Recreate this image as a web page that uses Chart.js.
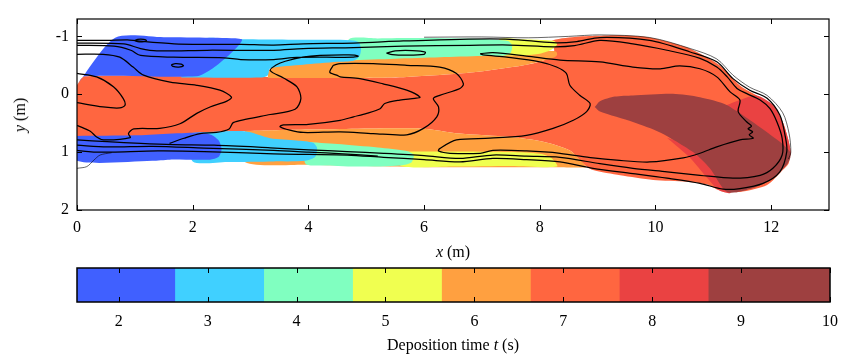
<!DOCTYPE html>
<html>
<head>
<meta charset="utf-8">
<script src="https://cdn.jsdelivr.net/npm/chart.js@4.4.1/dist/chart.umd.min.js"></script>
<style>
  body { margin: 0; background: #fff; width: 842px; height: 357px; position: relative; overflow: hidden;
         font-family: 'Liberation Serif', 'DejaVu Serif', serif; }
  canvas { position: absolute; left: 0; }
  #mainChart { top: 0; }
  #barChart { top: 240px; }
  .lbl { position: absolute; font-size: 16px; line-height: 16px; color: #000; white-space: nowrap; }
</style>
</head>
<body>
<canvas id="mainChart" width="842" height="240"></canvas>
<canvas id="barChart" width="842" height="117"></canvas>
<div class="lbl" style="left:453px; top:244px; transform:translateX(-50%)"><i>x</i> (m)</div>
<div class="lbl" style="left:20px; top:115px; transform:translate(-50%,-50%) rotate(-90deg)"><i>y</i> (m)</div>
<div class="lbl" style="left:453px; top:337px; transform:translateX(-50%)">Deposition time <i>t</i> (s)</div>
<script>
// ====== AXES ======
const xTicks  = [0, 2, 4, 6, 8, 10, 12];
const yTicks  = [-1, 0, 1, 2];
const cbTicks = [2, 3, 4, 5, 6, 7, 8, 9, 10];

// ====== COLOUR LEVELS (deposition time) ======
const cbEdges  = [1.53, 2.63, 3.63, 4.63, 5.63, 6.63, 7.63, 8.63, 10];
const cbColors = ['#4060ff', '#40d0ff', '#80ffc0', '#f0ff50', '#ffa040', '#ff6640', '#ea4242', '#9e4040'];

// ====== FILLED REGIONS [x, y] in metres ======
const region7 = [[0,-0.16],[0.13,-0.31],[2.0,-0.31],[3.3,-0.3],[4.55,-0.28],[5.7,-0.3],[6.85,-0.38],[7.72,-0.5],
  [8.1,-0.6],[8.25,-0.75],[8.2,-0.92],[8.6,-0.99],[9.0,-1.01],[9.33,-1.02],[9.85,-0.99],[10.54,-0.81],[11.11,-0.5],
  [11.46,-0.15],[11.8,0.05],[12.04,0.2],[12.2,0.48],[12.3,0.8],[12.33,1.02],[12.3,1.2],[12.2,1.31],[11.93,1.57],
  [11.46,1.69],[11.1,1.66],[10.9,1.56],[10.54,1.51],[9.96,1.48],[9.39,1.4],[8.92,1.31],[8.75,1.2],[8.52,0.97],
  [8.06,0.82],[7.48,0.74],[6.62,0.68],[5.93,0.59],[4.0,0.61],[2.8,0.64],[2.1,0.67],[1.0,0.73],[0,0.74]];
const orangeUp = [[3.3,-0.28],[3.31,-0.4],[3.45,-0.5],[4.5,-0.62],[6,-0.68],[7.5,-0.72],[8.0,-0.75],[8.28,-0.74],
  [8.3,-0.68],[8.23,-0.63],[7.72,-0.5],[6.85,-0.38],[5.7,-0.3],[4.55,-0.28]];
const orangeLow = [[2.9,0.635],[4.0,0.61],[5.93,0.59],[6.62,0.68],[7.48,0.74],[8.06,0.82],[8.52,0.97],[8.75,1.19],
  [8.8,1.26],[8.3,1.26],[6,1.26],[4,1.22],[2.9,1.17]];
const yellowUp = [[7.3,-0.67],[7.72,-0.67],[8.0,-0.7],[8.2,-0.77],[8.3,-0.86],[8.25,-0.92],[7.8,-0.945],[7.3,-0.95]];
const yellowLow = [[5.6,0.99],[6.5,0.99],[7.5,1.0],[8.0,1.03],[8.2,1.1],[8.3,1.25],[7.5,1.24],[6.5,1.25],[5.6,1.24]];
const greenUp = [[4.7,-0.585],[5.5,-0.615],[6.27,-0.64],[7.0,-0.66],[7.4,-0.67],[7.5,-0.72],[7.52,-0.85],[7.45,-0.92],
  [7.0,-0.955],[6.0,-0.97],[5.2,-0.965],[4.7,-0.95]];
const greenLow = [[3.95,0.82],[4.5,0.86],[5.2,0.92],[5.7,0.98],[5.82,1.05],[5.78,1.18],[5.6,1.23],[4.9,1.25],
  [4.3,1.23],[3.95,1.2]];
const cyanUp = [[1.8,-0.29],[3.2,-0.29],[3.3,-0.33],[3.34,-0.45],[3.91,-0.51],[4.5,-0.56],[4.78,-0.58],[4.88,-0.65],
  [4.91,-0.78],[4.87,-0.9],[4.72,-0.935],[4.0,-0.94],[3.3,-0.945],[2.6,-0.955],[2.2,-0.95]];
const cyanLow = [[2.0,0.665],[2.9,0.64],[3.34,0.76],[3.8,0.8],[4.08,0.84],[4.15,0.93],[4.12,1.08],[3.95,1.15],
  [3.4,1.16],[2.6,1.17],[2.0,1.16]];
const blueUp = [[0,-0.16],[0.66,-0.975],[1.5,-0.985],[2.3,-0.975],[2.85,-0.95],[2.8,-0.85],[2.6,-0.65],[2.35,-0.45],
  [2.07,-0.31],[0.13,-0.31]];
const blueLow = [[0,0.72],[1.0,0.71],[2.14,0.66],[2.32,0.7],[2.45,0.8],[2.5,0.95],[2.45,1.08],[2.3,1.13],[1.6,1.13],
  [1.3,1.15],[0,1.15]];
const red8Cap = [[11.2,0.2],[11.46,0.1],[11.75,0.02],[12.04,0.19],[12.2,0.48],[12.3,0.8],[12.33,1.05],[12.0,1.0],[11.5,0.6]];
const red8Strip = [[10.2,0.75],[10.8,0.95],[11.3,1.4],[11.3,1.7],[11.1,1.66],[10.9,1.45],[10.6,1.1],[10.35,0.88]];
const region9 = [[8.95,0.22],[9.04,0.12],[9.3,0.04],[9.61,0.02],[10.3,-0.01],[10.77,0.05],[11.24,0.19],[12.15,0.82],
  [12.33,1.0],[12.33,1.1],[12.27,1.22],[12.04,1.45],[11.69,1.62],[11.24,1.69],[10.94,1.28],[10.65,1.0],[10.08,0.66],
  [9.61,0.48],[9.04,0.3]];

// ====== CONTOUR LINES ======
const lineOuter = [[0,-0.93],[0.52,-0.93],[0.87,-0.94],[1.04,-0.92],[1.68,-0.87],[2.25,-0.86],[2.83,-0.86],[3.4,-0.85],
  [3.91,-0.87],[4.78,-0.885],[5.64,-0.92],[6.62,-0.95],[7.48,-0.95],[8.23,-0.89],[8.64,-0.91],[9.04,-0.98],[9.9,-0.93],
  [10.6,-0.73],[11.06,-0.56],[11.34,-0.27],[11.63,-0.07],[11.93,0.07],[12.15,0.36],[12.24,0.71],[12.27,0.99],
  [12.15,1.34],[11.86,1.54],[11.46,1.63],[11.17,1.64],[10.77,1.54],[10.2,1.45],[9.61,1.37],[8.92,1.28],[8.35,1.17],
  [7.77,1.13],[7.19,1.11],[6.62,1.17],[6.0,1.13],[5.3,1.09],[4.67,1.05],[4.0,1.04],[3.4,1.03],[2.2,0.99],[1.4,0.98],
  [0.6,1.0],[0.35,1.0],[0.2,0.99],[0,0.97]];
const lineMiddle = [[0,-0.885],[0.81,-0.87],[1.1,-0.79],[1.38,-0.75],[2.25,-0.76],[3.4,-0.76],[3.91,-0.79],[4.78,-0.805],
  [5.64,-0.83],[6.79,-0.845],[7.48,-0.85],[8.23,-0.82],[8.6,-0.84],[9.04,-0.93],[9.61,-0.87],[10.2,-0.76],[10.77,-0.62],
  [11.06,-0.47],[11.24,-0.3],[11.41,-0.1],[11.58,-0.01],[11.81,0.1],[11.98,0.25],[12.1,0.48],[12.19,0.76],[12.19,1.05],
  [12.03,1.28],[11.81,1.4],[11.34,1.45],[10.77,1.4],[10.2,1.34],[9.61,1.28],[9.04,1.2],[8.35,1.09],[7.77,1.07],
  [7.19,1.05],[6.62,1.11],[6.0,1.06],[5.3,1.02],[4.67,0.99],[4.0,0.96],[3.34,0.925],[2.37,0.88],[1.67,0.87],
  [1.1,0.85],[0.52,0.82],[0,0.79]];
const lineLow2 = [[0,0.88],[0.52,0.91],[1.3,0.9],[2.2,0.93],[3.4,0.97],[4.0,1.0],[4.6,1.03],[5.2,1.07]];
const lineThinTop = [[6,-0.985],[7,-0.99],[7.8,-0.975],[8.5,-1.0],[9.04,-1.025],[9.9,-0.98],[10.6,-0.79],[11.06,-0.61],
  [11.34,-0.33],[11.63,-0.12],[11.93,0.02],[12.2,0.32],[12.31,0.68],[12.34,1.0],[12.3,1.12]];
const lineThinLow = [[0,1.28],[0.17,1.25],[0.29,1.14],[0.4,1.05],[0.6,1.01]];
const lineT3 = [[0,-0.845],[0.64,-0.83],[0.93,-0.76],[1.1,-0.67],[1.67,-0.64],[2.54,-0.63],[2.83,-0.6],[3.4,-0.6],
  [3.8,-0.635],[4.3,-0.64],[4.78,-0.64],[4.86,-0.66],[4.7,-0.68],[4.2,-0.67],[3.9,-0.64],[3.6,-0.57],[3.45,-0.51],
  [3.34,-0.41],[3.57,-0.28],[3.8,-0.13],[3.87,0.075],[3.77,0.26],[3.34,0.35],[2.93,0.43],[2.7,0.49],[2.63,0.6],
  [2.41,0.66],[2.13,0.68],[1.85,0.76],[1.6,0.85]];
const lineT4 = [[0,-0.69],[0.45,-0.69],[0.74,-0.64],[0.97,-0.47],[1.15,-0.33],[1.61,-0.21],[2.07,-0.155],[2.47,-0.07],
  [2.67,0.05],[2.59,0.12],[2.3,0.22],[2.07,0.33],[1.78,0.51],[1.43,0.59],[0.98,0.6],[0.89,0.68],[0.92,0.75],
  [0.46,0.79],[0.34,0.74],[0.23,0.64],[0.03,0.55],[0,0.54]];
const lineC1 = [[0,-0.36],[0.34,-0.3],[0.63,-0.13],[0.8,0.075],[0.83,0.19],[0.74,0.236],[0.45,0.22],[0,0.145]];
const loopP = [[4.43,-0.5],[4.55,-0.53],[5.12,-0.53],[5.7,-0.5],[6.27,-0.47],[6.56,-0.36],[6.68,-0.18],[6.62,-0.1],
  [6.27,0.02],[6.16,0.075],[6.25,0.22],[6.22,0.39],[5.99,0.59],[5.7,0.7],[5.12,0.68],[4.55,0.65],[3.91,0.66],
  [3.68,0.62],[3.51,0.56],[3.57,0.53],[4.0,0.52],[4.55,0.45],[4.78,0.39],[5.01,0.33],[5.24,0.25],[5.32,0.16],
  [5.58,0.1],[5.84,0.07],[5.93,0.05],[5.7,-0.07],[5.29,-0.18],[4.89,-0.27],[4.55,-0.3],[4.49,-0.33],[4.37,-0.38],[4.43,-0.5]];
const loopQ = [[6.97,-0.7],[7.19,-0.72],[7.77,-0.66],[8.35,-0.59],[9.04,-0.56],[9.61,-0.47],[10.08,-0.44],[10.42,-0.49],
  [10.77,-0.44],[11.06,-0.3],[11.29,-0.04],[11.46,0.1],[11.43,0.3],[11.58,0.48],[11.66,0.55],[11.6,0.6],[11.68,0.65],
  [11.62,0.7],[11.69,0.76],[11.46,0.79],[11.06,0.91],[10.77,1.02],[10.48,1.1],[9.9,1.17],[9.33,1.14],[8.92,1.1],
  [8.35,1.02],[7.77,0.98],[7.19,0.97],[6.97,1.02],[6.45,1.02],[6.25,0.98],[6.27,0.94],[6.56,0.79],[7.14,0.76],
  [7.77,0.71],[8.23,0.59],[8.58,0.45],[8.81,0.3],[8.87,0.16],[8.69,0.017],[8.52,-0.155],[8.46,-0.36],[8.29,-0.47],
  [8.0,-0.56],[7.43,-0.64],[7.02,-0.68],[6.97,-0.7]];
const loopA = [[1.0,-0.93],[1.05,-0.95],[1.15,-0.95],[1.2,-0.93],[1.15,-0.91],[1.05,-0.91],[1.0,-0.93]];
const loopB = [[1.63,-0.51],[1.7,-0.53],[1.8,-0.52],[1.84,-0.49],[1.76,-0.47],[1.66,-0.48],[1.63,-0.51]];
const loopC = [[5.35,-0.71],[5.5,-0.75],[5.8,-0.755],[6.02,-0.73],[6.0,-0.69],[5.7,-0.675],[5.45,-0.685],[5.35,-0.71]];

// ====== HELPERS ======
const SERIF = "'Liberation Serif', 'DejaVu Serif', serif";
const toPts = arr => arr.map(([x, y]) => ({ x, y }));

function regionSet(arr, color) {
  const pts = toPts(arr);
  pts.push(pts[0]); // close the shape
  return { data: pts, showLine: true, fill: 'shape', backgroundColor: color,
           borderWidth: 0, borderColor: color, pointRadius: 0, tension: 0.25 };
}
function contourSet(arr, width) {
  return { data: toPts(arr), showLine: true, fill: false, borderColor: '#000',
           borderWidth: width || 1.25, pointRadius: 0, tension: 0.3 };
}

// keep the plot box exactly where the axes say, no room for label overhang
function noOverhang(ax) {
  ax.paddingLeft = 0;
  ax.paddingRight = 0;
}

// frame + inward tick marks
const framePlugin = {
  id: 'frame',
  afterDraw(chart, args, opts) {
    const { ctx, chartArea: a } = chart;
    const len = opts.tickLen || 5;
    ctx.save();
    ctx.strokeStyle = '#000';
    ctx.lineWidth = 1;
    const seg = (x1, y1, x2, y2) => { ctx.beginPath(); ctx.moveTo(x1, y1); ctx.lineTo(x2, y2); ctx.stroke(); };
    const xs = chart.scales.x;
    xs.ticks.forEach(t => {
      const px = Math.round(xs.getPixelForValue(t.value)) + 0.5;
      seg(px, a.bottom, px, a.bottom - len);
      seg(px, a.top, px, a.top + len);
    });
    if (opts.yTicks) {
      const ys = chart.scales.y;
      ys.ticks.forEach(t => {
        const py = Math.round(ys.getPixelForValue(t.value)) + 0.5;
        seg(a.left, py, a.left + len, py);
        seg(a.right, py, a.right - len, py);
      });
    }
    ctx.lineWidth = opts.lineWidth || 1.2;
    ctx.strokeRect(a.left, a.top, a.right - a.left, a.bottom - a.top);
    ctx.restore();
  }
};

// ====== MAIN CHART ======
const paintOrder = [
  regionSet(region7, cbColors[5]),
  regionSet(orangeUp, cbColors[4]), regionSet(orangeLow, cbColors[4]),
  regionSet(yellowUp, cbColors[3]), regionSet(yellowLow, cbColors[3]),
  regionSet(greenUp, cbColors[2]), regionSet(greenLow, cbColors[2]),
  regionSet(cyanUp, cbColors[1]), regionSet(cyanLow, cbColors[1]),
  regionSet(blueUp, cbColors[0]), regionSet(blueLow, cbColors[0]),
  regionSet(red8Cap, cbColors[6]), regionSet(red8Strip, cbColors[6]),
  regionSet(region9, cbColors[7]),
  contourSet(lineThinTop, 0.6), contourSet(lineThinLow, 0.6),
  contourSet(lineOuter), contourSet(lineMiddle), contourSet(lineLow2),
  contourSet(lineT3), contourSet(lineT4), contourSet(lineC1),
  contourSet(loopP), contourSet(loopQ), contourSet(loopA), contourSet(loopB), contourSet(loopC)
];
// Chart.js draws the first dataset on top, so reverse the painter order
const mainDatasets = paintOrder.slice().reverse();

new Chart(document.getElementById('mainChart'), {
  type: 'scatter',
  data: { datasets: mainDatasets },
  options: {
    responsive: false,
    animation: false,
    layout: { padding: { top: 19, right: 13, left: 0, bottom: 0 } },
    plugins: { legend: { display: false }, tooltip: { enabled: false }, frame: { yTicks: true } },
    scales: {
      x: {
        type: 'linear', min: 0, max: 13,
        afterBuildTicks: ax => { ax.ticks = xTicks.map(v => ({ value: v })); },
        afterFit: ax => { ax.height = 30; noOverhang(ax); },
        grid: { display: false, drawTicks: false },
        border: { display: false },
        ticks: { color: '#000', font: { family: SERIF, size: 16 }, padding: 8, maxRotation: 0 }
      },
      y: {
        type: 'linear', min: -1.3, max: 2, reverse: true,
        afterBuildTicks: ax => { ax.ticks = yTicks.map(v => ({ value: v })); },
        afterFit: ax => { ax.width = 77; },
        grid: { display: false, drawTicks: false },
        border: { display: false },
        ticks: { color: '#000', font: { family: SERIF, size: 16 }, padding: 8 }
      }
    }
  },
  plugins: [framePlugin]
});

// ====== COLOUR BAR ======
const cbDatasets = cbColors.map((c, i) => ({
  data: [[cbEdges[i], cbEdges[i + 1]]],
  backgroundColor: c, borderWidth: 0, barPercentage: 1, categoryPercentage: 1
}));

new Chart(document.getElementById('barChart'), {
  type: 'bar',
  data: { labels: ['t'], datasets: cbDatasets },
  options: {
    indexAxis: 'y',
    responsive: false,
    animation: false,
    layout: { padding: { top: 28, right: 12, left: 0, bottom: 0 } },
    plugins: { legend: { display: false }, tooltip: { enabled: false }, frame: { yTicks: false, lineWidth: 1.5 } },
    scales: {
      x: {
        type: 'linear', min: cbEdges[0], max: cbEdges[cbEdges.length - 1],
        afterBuildTicks: ax => { ax.ticks = cbTicks.map(v => ({ value: v })); },
        afterFit: ax => { ax.height = 55; noOverhang(ax); },
        grid: { display: false, drawTicks: false },
        border: { display: false },
        ticks: { color: '#000', font: { family: SERIF, size: 16 }, padding: 10, maxRotation: 0 }
      },
      y: {
        stacked: true,
        afterFit: ax => { ax.width = 77; },
        grid: { display: false, drawTicks: false },
        border: { display: false },
        ticks: { display: false }
      }
    }
  },
  plugins: [framePlugin]
});
</script>
</body>
</html>
